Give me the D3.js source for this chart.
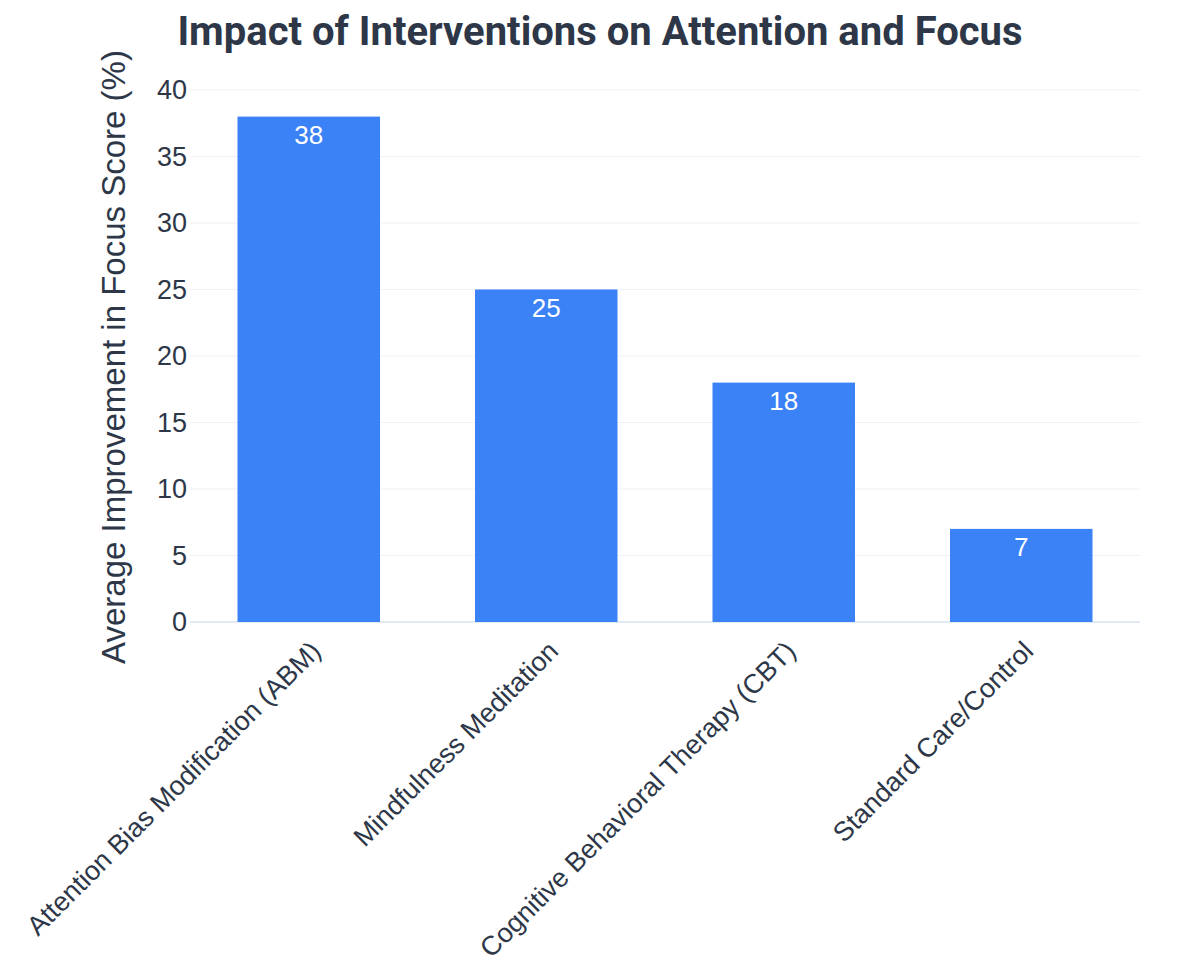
<!DOCTYPE html>
<html lang="en">
<head>
<meta charset="UTF-8">
<script src="https://cdn.jsdelivr.net/npm/d3@7"></script>
<style>
  body { margin: 0; background: #fff; }
</style>
</head>
<body>
<div id="chart"></div>
<script>
    var categories = ["Attention Bias Modification (ABM)", "Mindfulness Meditation",
                      "Cognitive Behavioral Therapy (CBT)", "Standard Care/Control"];
    var improvement = [38, 25, 18, 7];
    var yTicks = [0, 5, 10, 15, 20, 25, 30, 35, 40];

    var width = 1200,
        height = 975,
        margin = {top: 90, right: 60, bottom: 353, left: 190};

    var textColor = "#2d3748",
        barColor = "#3b82f6";

    var svg = d3.select("#chart")
                .append("svg")
                  .attr("width", width)
                  .attr("height", height)
                  .style("font-family", "'Liberation Sans', Arial, sans-serif");

    var x = d3.scaleBand()
              .domain(categories)
              .range([margin.left, width - margin.right])
              .paddingInner(0.4)
              .paddingOuter(0.2);

    var y = d3.scaleLinear()
              .domain([0, 40])
              .range([height - margin.bottom, margin.top]);

    // gridlines
    svg.append("g")
       .selectAll("line")
       .data(yTicks)
       .enter()
       .append("line")
         .attr("x1", margin.left)
         .attr("x2", width - margin.right)
         .attr("y1", function(d){ return y(d); })
         .attr("y2", function(d){ return y(d); })
         .attr("stroke", function(d){ return d === 0 ? "#e2eaf5" : "#eef1f5"; })
         .attr("stroke-width", function(d){ return d === 0 ? 2 : 1; });

    // y axis labels
    var yAxis = d3.axisLeft(y).tickValues(yTicks).tickSize(0).tickPadding(3);
    var gy = svg.append("g")
                .attr("transform", "translate(" + margin.left + ",0)")
                .call(yAxis);
    gy.select(".domain").remove();
    gy.selectAll("text")
      .style("font-size", "27px")
      .style("font-family", "'Liberation Sans', Arial, sans-serif")
      .attr("fill", textColor);

    // bars
    svg.selectAll("rect.bar")
       .data(improvement)
       .enter()
       .append("rect")
         .attr("class", "bar")
         .attr("x", function(d, i){ return x(categories[i]); })
         .attr("y", function(d){ return y(d); })
         .attr("width", x.bandwidth())
         .attr("height", function(d){ return y(0) - y(d); })
         .attr("fill", barColor);

    // value labels inside bars
    svg.selectAll("text.val")
       .data(improvement)
       .enter()
       .append("text")
         .attr("class", "val")
         .attr("x", function(d, i){ return x(categories[i]) + x.bandwidth() / 2; })
         .attr("y", function(d){ return y(d) + 27; })
         .attr("text-anchor", "middle")
         .attr("fill", "#fff")
         .style("font-size", "26px")
         .text(function(d){ return d; });

    // x axis labels, rotated
    var xAxis = d3.axisBottom(x).tickSize(0).tickPadding(0);
    var gx = svg.append("g")
                .attr("transform", "translate(0," + (height - margin.bottom) + ")")
                .call(xAxis);
    gx.select(".domain").remove();
    gx.selectAll("text")
      .style("font-size", "27px")
      .style("font-family", "'Liberation Sans', Arial, sans-serif")
      .attr("fill", textColor)
      .attr("text-anchor", "end")
      .attr("dy", "0.35em")
      .attr("y", 0)
      .attr("transform", "translate(7,24) rotate(-45)");

    // y axis title
    svg.append("text")
       .attr("transform", "translate(125," + 357 + ") rotate(-90)")
       .attr("text-anchor", "middle")
       .attr("fill", textColor)
       .style("font-size", "33px")
       .text("Average Improvement in Focus Score (%)");

    // title
    svg.append("text")
       .attr("x", 600)
       .attr("y", 45)
       .attr("text-anchor", "middle")
       .attr("fill", textColor)
       .style("font-family", "Roboto, 'Liberation Sans', sans-serif")
       .style("font-weight", "bold")
       .style("font-size", "40px")
       .text("Impact of Interventions on Attention and Focus");
</script>
</body>
</html>
